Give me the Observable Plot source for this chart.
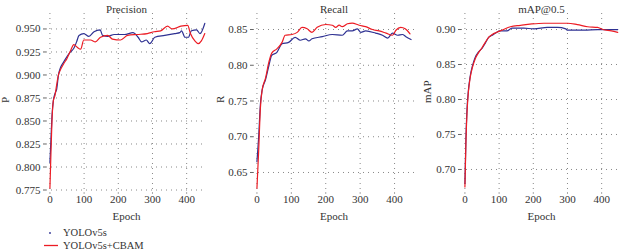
<!DOCTYPE html>
<html>
<head>
<meta charset="utf-8">
<script src="https://cdn.jsdelivr.net/npm/d3@7"></script>
<script src="https://cdn.jsdelivr.net/npm/@observablehq/plot@0.6"></script>
<style>
  body { margin: 0; background: #fff; font-family: "Liberation Serif", "DejaVu Serif", serif; }
  #row { display: flex; width: 622px; }
  #legend { position: relative; width: 622px; height: 29px; font-size: 10.5px; color: #333; }
  .item { position: absolute; left: 0; height: 13px; line-height: 13px; white-space: nowrap; }
</style>
</head>
<body>
<div id="row"></div>
<div id="legend"></div>
<script>
// ---- data ----
const seriesNames = ["YOLOv5s", "YOLOv5s+CBAM"];
const seriesColors = ["#2e3192", "#ec1c24"];
const xTicks = [0, 100, 200, 300, 400];

const panelTitles = ["Precision", "Recall", "mAP@0.5"];
const yLabels = ["P", "R", "mAP"];
const precTicks = [0.775, 0.800, 0.825, 0.850, 0.875, 0.900, 0.925, 0.950];
const recTicks = [0.65, 0.70, 0.75, 0.80, 0.85];
const mapTicks = [0.70, 0.75, 0.80, 0.85, 0.90];

// Precision
const precBaseEpoch = [0,3,6,10,15,20,25,30,40,50,60,70,78,85,99,114,129,147,154,169,188,218,243,258,268,282,292,307,336,365,380,385,395,405,414,429,439,453];
const precBase = [0.805,0.830,0.855,0.872,0.880,0.885,0.900,0.907,0.914,0.920,0.925,0.929,0.936,0.943,0.945,0.942,0.947,0.949,0.943,0.942,0.944,0.944,0.946,0.941,0.936,0.938,0.934,0.941,0.943,0.945,0.946,0.948,0.941,0.941,0.948,0.949,0.945,0.956];
const precCbamEpoch = [0,3,6,10,15,20,25,30,40,50,60,70,80,90,99,119,133,148,169,183,207,227,256,285,305,324,344,358,383,403,411,424,434,443,453];
const precCbam = [0.777,0.815,0.850,0.872,0.878,0.890,0.900,0.905,0.912,0.918,0.926,0.933,0.930,0.928,0.938,0.938,0.936,0.941,0.943,0.939,0.938,0.943,0.944,0.945,0.947,0.948,0.953,0.950,0.953,0.954,0.945,0.937,0.934,0.937,0.945];

// Recall
const recBaseEpoch = [0,5,10,15,25,35,43,58,73,92,111,126,141,151,160,190,219,248,263,277,292,302,316,345,365,380,394,409,423,433,448];
const recBase = [0.665,0.700,0.745,0.765,0.780,0.800,0.814,0.818,0.830,0.832,0.839,0.835,0.837,0.834,0.837,0.840,0.843,0.842,0.848,0.848,0.851,0.846,0.848,0.845,0.842,0.838,0.845,0.842,0.843,0.840,0.836];
const recCbamEpoch = [0,5,10,15,25,35,43,58,73,82,102,117,131,146,160,175,200,219,229,239,248,263,277,297,316,336,355,375,394,404,418,431,445];
const recCbam = [0.628,0.680,0.740,0.765,0.782,0.805,0.817,0.823,0.832,0.842,0.843,0.846,0.853,0.851,0.846,0.853,0.857,0.856,0.853,0.856,0.854,0.858,0.859,0.856,0.854,0.850,0.848,0.845,0.842,0.849,0.853,0.851,0.844];

// mAP@0.5
const mapBaseEpoch = [0,3,6,10,15,22,30,40,50,60,70,80,90,103,123,138,172,202,241,271,295,300,349,388,408,447];
const mapBase = [0.680,0.745,0.785,0.812,0.832,0.848,0.860,0.868,0.873,0.881,0.889,0.892,0.895,0.898,0.898,0.902,0.902,0.901,0.903,0.903,0.901,0.899,0.899,0.900,0.900,0.900];
const mapCbamEpoch = [0,3,6,10,15,22,30,40,50,60,70,80,93,108,133,162,196,231,300,329,359,388,403,428,447];
const mapCbam = [0.675,0.740,0.780,0.810,0.830,0.846,0.858,0.867,0.874,0.882,0.889,0.893,0.896,0.899,0.904,0.906,0.908,0.909,0.909,0.907,0.904,0.903,0.900,0.898,0.896];

// ---- build ----
function rows(epochs, vals, name) {
  return epochs.map((e, i) => ({epoch: e, value: vals[i], series: name}));
}

const panels = [
  {title: panelTitles[0], ylab: yLabels[0], ticks: precTicks, fmt: ".3f", domain: [0.7723, 0.9668], labDx: -41, width: 207,
   data: [...rows(precBaseEpoch, precBase, seriesNames[0]), ...rows(precCbamEpoch, precCbam, seriesNames[1])]},
  {title: panelTitles[1], ylab: yLabels[1], ticks: recTicks, fmt: ".2f", domain: [0.622, 0.8724], labDx: -33, width: 208,
   data: [...rows(recBaseEpoch, recBase, seriesNames[0]), ...rows(recCbamEpoch, recCbam, seriesNames[1])]},
  {title: panelTitles[2], ylab: yLabels[2], ticks: mapTicks, fmt: ".2f", domain: [0.6671, 0.9229], labDx: -34, width: 207,
   data: [...rows(mapBaseEpoch, mapBase, seriesNames[0]), ...rows(mapCbamEpoch, mapCbam, seriesNames[1])]}
];

const row = document.getElementById("row");
for (const p of panels) {
  const chart = Plot.plot({
    width: p.width, height: 222,
    marginLeft: 46, marginRight: 1, marginTop: 13, marginBottom: 30,
    style: {fontFamily: "'Liberation Serif', serif", fontSize: "11px", color: "#333", background: "#fff", overflow: "visible"},
    x: {domain: [-10, 458]},
    y: {domain: p.domain},
    color: {domain: seriesNames, range: seriesColors},
    marks: [
      Plot.gridX(xTicks, {stroke: "#888", strokeOpacity: 1, strokeDasharray: "1,4", strokeWidth: 1}),
      Plot.gridY(p.ticks, {stroke: "#888", strokeOpacity: 1, strokeDasharray: "1,4", strokeWidth: 1}),
      Plot.axisX(xTicks, {tickSize: 2, tickPadding: 1, label: null, stroke: "#aaa", fill: "#333"}),
      Plot.axisY(p.ticks, {tickSize: 3, tickPadding: 3, tickFormat: d3.format(p.fmt), label: null, stroke: "#666", fill: "#333"}),
      Plot.line(p.data, {x: "epoch", y: "value", z: "series", stroke: "series", strokeWidth: 1.2, curve: "monotone-x"}),
      Plot.text([p.title], {frameAnchor: "top", dy: -8, fontSize: 11, fill: "#333"}),
      Plot.text(["Epoch"], {frameAnchor: "bottom", dy: 24, lineAnchor: "middle", fontSize: 11, fill: "#333"}),
      Plot.text([p.ylab], {frameAnchor: "left", dx: p.labDx, dy: 0, rotate: -90, fontSize: 11, fill: "#333"})
    ]
  });
  row.appendChild(chart);
}

// legend
const legend = document.getElementById("legend");
seriesNames.forEach((name, i) => {
  const item = document.createElement("div");
  item.className = "item";
  item.style.top = (4 + i * 13) + "px";
  const svgNS = "http://www.w3.org/2000/svg";
  const sw = document.createElementNS(svgNS, "svg");
  sw.setAttribute("width", 63); sw.setAttribute("height", 13);
  sw.style.verticalAlign = "top";
  if (i === 0) {
    const c = document.createElementNS(svgNS, "circle");
    c.setAttribute("cx", 50); c.setAttribute("cy", 7); c.setAttribute("r", 0.9);
    c.setAttribute("fill", seriesColors[i]);
    sw.appendChild(c);
  } else {
    const l = document.createElementNS(svgNS, "line");
    l.setAttribute("x1", 44); l.setAttribute("x2", 58); l.setAttribute("y1", 6.5); l.setAttribute("y2", 6.5);
    l.setAttribute("stroke", seriesColors[i]); l.setAttribute("stroke-width", 1.3);
    sw.appendChild(l);
  }
  item.appendChild(sw);
  const t = document.createElement("span");
  t.textContent = name;
  item.appendChild(t);
  legend.appendChild(item);
});
</script>
</body>
</html>
